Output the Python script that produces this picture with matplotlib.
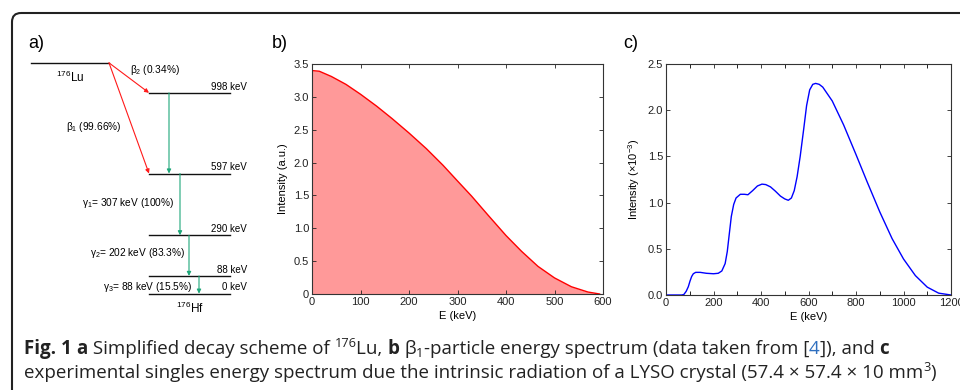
import matplotlib
matplotlib.use("Agg")
import matplotlib.pyplot as plt
from matplotlib.patches import FancyBboxPatch

W, H = 960, 390

# b) beta1 spectrum of 176Lu (keV, a.u.)
beta_e = [0, 15, 40, 70, 100, 133, 165, 200, 236, 270, 300, 329, 363, 400, 432, 466,
          500, 535, 569, 593]
beta_i = [3.40, 3.39, 3.31, 3.19, 3.04, 2.86, 2.67, 2.45, 2.21, 1.96, 1.72, 1.49, 1.20,
          0.89, 0.65, 0.42, 0.245, 0.11, 0.03, 0.0]

# c) LYSO singles spectrum (keV, x1e-3)
lyso_e = [0, 66, 75, 85, 94, 101, 108, 115, 125, 144, 170, 200, 220, 235, 249, 258, 266,
          275, 285, 295, 313, 330, 345, 365, 385, 404, 420, 440, 460, 482, 500, 515, 528,
          540, 552, 565, 580, 592, 605, 618, 630, 645, 660, 700, 748, 800, 846, 900, 952,
          1000, 1050, 1100, 1148, 1200]
lyso_i = [0, 0, 0.005, 0.04, 0.09, 0.15, 0.20, 0.23, 0.245, 0.245, 0.235, 0.23, 0.235,
          0.26, 0.34, 0.47, 0.65, 0.85, 0.98, 1.05, 1.09, 1.09, 1.085, 1.13, 1.18, 1.20,
          1.195, 1.17, 1.125, 1.07, 1.04, 1.025, 1.05, 1.13, 1.28, 1.50, 1.80, 2.05, 2.22,
          2.28, 2.29, 2.28, 2.25, 2.10, 1.84, 1.52, 1.23, 0.90, 0.61, 0.39, 0.21, 0.085,
          0.02, 0.0]

# a) decay scheme
lu_level = 1147                    # drawn height of the 176Lu level
hf_levels = [998, 597, 290, 88, 0]
beta_labels = ["β$_2$ $\\mathit{(0.34\\%)}$", "β$_1$ $\\mathit{(99.66\\%)}$"]
gamma_labels = ["γ$_1$= 307 keV $\\mathit{(100\\%)}$",
                "γ$_2$= 202 keV $\\mathit{(83.3\\%)}$",
                "γ$_3$= 88 keV $\\mathit{(15.5\\%)}$"]

plt.rcParams["font.family"] = ["Liberation Sans", "DejaVu Sans"]
plt.rcParams["mathtext.fontset"] = "custom"
plt.rcParams["mathtext.rm"] = "Liberation Sans"
plt.rcParams["mathtext.it"] = "Liberation Sans:italic"
plt.rcParams["mathtext.bf"] = "Liberation Sans:bold"

fig = plt.figure(figsize=(W / 100, H / 100), dpi=100)


def px_rect(x0, y0, x1, y1):
    return [x0 / W, 1 - y1 / H, (x1 - x0) / W, (y1 - y0) / H]


# background axes in pixel units
bg = fig.add_axes([0, 0, 1, 1])
bg.set_xlim(0, W)
bg.set_ylim(H, 0)
bg.axis("off")
bg.add_patch(FancyBboxPatch((12, 13), 1100, 500, boxstyle="round,pad=0,rounding_size=9",
                            fill=False, lw=1.5, ec="#222222"))

for lab, x in [("a)", 28), ("b)", 272), ("c)", 623)]:
    bg.text(x, 43, lab, fontsize=13, va="center", ha="left")


def style(ax):
    ax.tick_params(direction="in", top=True, right=True, length=3, width=0.6,
                   labelsize=8, pad=2, colors="#222222")
    for s in ax.spines.values():
        s.set_linewidth(0.8)
        s.set_color("#333333")


# ---- panel a
ax_a = fig.add_axes(px_rect(0, 20, 260, 320))
ax_a.set_xlim(0, 260)
ax_a.set_ylim(-131, 1360)
ax_a.axis("off")

ax_a.plot([31, 109], [lu_level, lu_level], color="#111111", lw=1)
ax_a.text(70, lu_level - 70, "$^{176}$Lu", fontsize=8.5, ha="center", va="center")
for e in hf_levels:
    ax_a.plot([149, 230], [e, e], color="#111111", lw=1)
    ax_a.text(247, e + 6, f"{e} keV", fontsize=7, ha="right", va="bottom")
ax_a.text(190, -75, "$^{176}$Hf", fontsize=8.5, ha="center", va="center")

red = "#ff1a1a"
for target in hf_levels[:2]:
    ax_a.annotate("", xy=(149, target), xytext=(109, lu_level),
                  arrowprops=dict(arrowstyle="-|>", color=red, lw=0.8, mutation_scale=6,
                                  shrinkA=0, shrinkB=0))
ax_a.text(130, 1112, beta_labels[0], fontsize=7.3, ha="left", va="center")
ax_a.text(66, 828, beta_labels[1], fontsize=7.3, ha="left", va="center")

green = "#1fa87a"
gx = [169, 180, 189, 199]
for i, x in enumerate(gx):
    ax_a.annotate("", xy=(x, hf_levels[i + 1]), xytext=(x, hf_levels[i]),
                  arrowprops=dict(arrowstyle="-|>", color=green, lw=0.8, mutation_scale=6,
                                  shrinkA=0, shrinkB=0))
for lab, x, y in zip(gamma_labels, [82, 90, 103], [450, 202, 33]):
    ax_a.text(x, y, lab, fontsize=7.3, ha="left", va="center")

# ---- panel b
ax_b = fig.add_axes(px_rect(312, 64, 603, 294))
ax_b.fill_between(beta_e, beta_i, 0, color="#ff9999", lw=0)
ax_b.plot(beta_e, beta_i, color="#ff0000", lw=1)
ax_b.set_xlim(0, 600)
ax_b.set_ylim(0, 3.5)
ax_b.set_xticks(range(0, 601, 100))
ax_b.set_yticks([0, 0.5, 1, 1.5, 2, 2.5, 3, 3.5])
ax_b.set_yticklabels(["0", "0.5", "1.0", "1.5", "2.0", "2.5", "3.0", "3.5"])
ax_b.set_xlabel("E (keV)", fontsize=8, labelpad=3)
ax_b.set_ylabel("Intensity (a.u.)", fontsize=8, labelpad=4)
style(ax_b)

# ---- panel c
ax_c = fig.add_axes(px_rect(666, 64, 951, 295))
ax_c.plot(lyso_e, lyso_i, color="#0000ff", lw=1)
ax_c.set_xlim(0, 1200)
ax_c.set_ylim(0, 2.5)
ax_c.set_xticks(range(0, 1201, 200))
ax_c.set_xticks(range(100, 1200, 200), minor=True)
ax_c.set_yticks([0, 0.5, 1, 1.5, 2, 2.5])
ax_c.set_yticklabels(["0.0", "0.5", "1.0", "1.5", "2.0", "2.5"])
ax_c.set_xlabel("E (keV)", fontsize=8, labelpad=3)
ax_c.set_ylabel("Intensity (×10$^{-3}$)", fontsize=8, labelpad=4)
style(ax_c)
ax_c.tick_params(which="minor", direction="in", top=True, length=3, width=0.6)

# ---- caption
renderer = fig.canvas.get_renderer()
cap_size = 13.5


def text_width(t):
    return t.get_window_extent(renderer).width


def rich_line(y, pieces, x=24):
    bar = bg.text(0, 0, "|", family="Open Sans", fontsize=cap_size)
    for txt, kind in pieces:
        kw = dict(family="Open Sans", fontsize=cap_size, color="#222222")
        dy = 0
        if kind == "b":
            kw["weight"] = "bold"
        elif kind == "sup":
            kw["fontsize"] = cap_size * 0.68
            dy = -7
        elif kind == "sub":
            kw["fontsize"] = cap_size * 0.68
            dy = 3
        elif kind == "link":
            kw["color"] = "#2f6fbf"
        bg.text(x, y + dy, txt, ha="left", va="baseline", **kw)
        # measure with a trailing bar so that trailing spaces count
        probe = bg.text(0, 0, txt + "|", **kw)
        bar.set_fontsize(kw["fontsize"])
        bar.set_fontweight(kw.get("weight", "normal"))
        x += text_width(probe) - text_width(bar)
        probe.remove()
    bar.remove()
    return x


rich_line(354, [("Fig. 1 ", "b"), ("a", "b"), (" Simplified decay scheme of ", "n"),
                ("176", "sup"), ("Lu, ", "n"), ("b", "b"), (" β", "n"), ("1", "sub"),
                ("-particle energy spectrum (data taken from [", "n"), ("4", "link"),
                ("]), and ", "n"), ("c", "b")])
rich_line(378, [("experimental singles energy spectrum due the intrinsic radiation "
                 "of a LYSO crystal (57.4 × 57.4 × 10 mm", "n"), ("3", "sup"), (")", "n")])

fig.savefig("out.png", dpi=100)
